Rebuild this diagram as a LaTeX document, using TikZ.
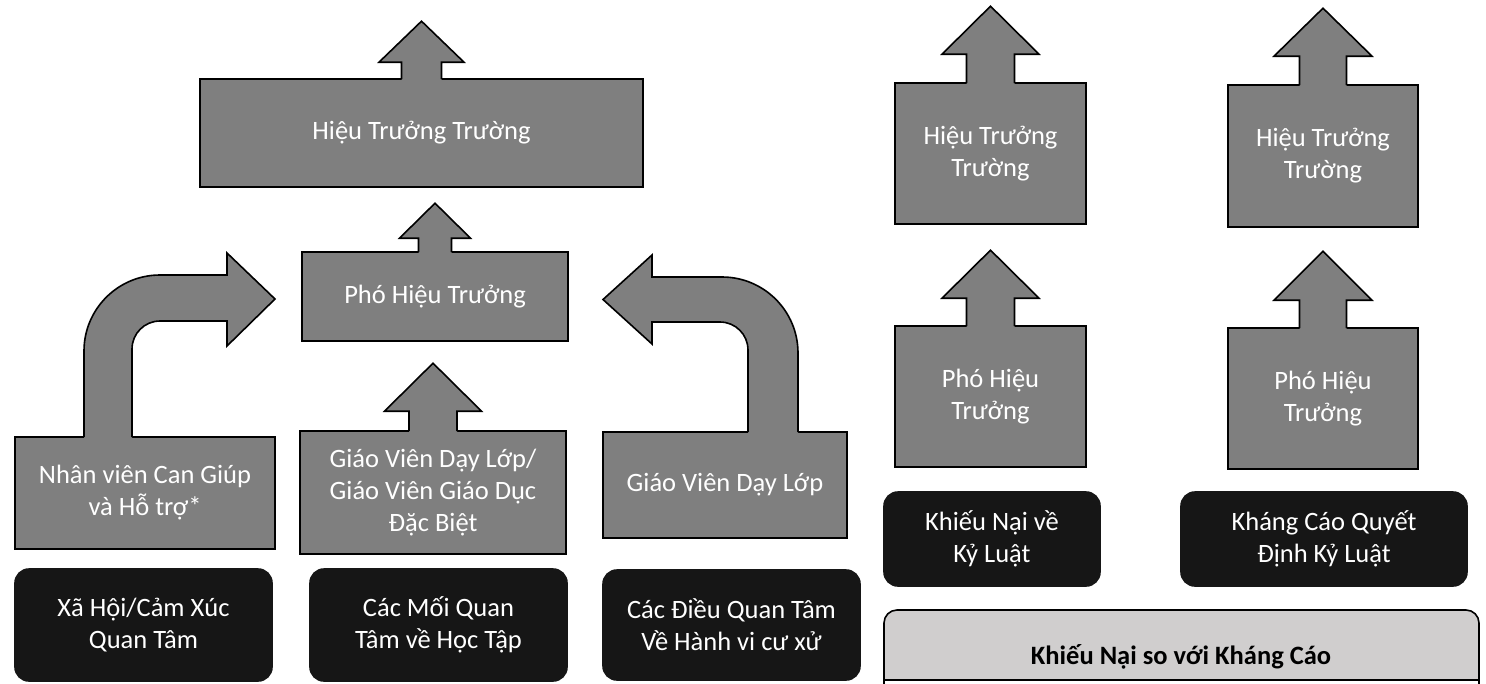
\documentclass[tikz,border=0pt]{standalone}
\usepackage{fontspec}
\setmainfont{Carlito}
\usetikzlibrary{calc}
\definecolor{boxgray}{HTML}{7F7F7F}
\definecolor{boxblack}{HTML}{161616}
\definecolor{hdrgray}{HTML}{D0CECE}

\begin{document}
\begin{tikzpicture}
  [x=1pt,y=-1pt,line width=1.6pt,
   every node/.style={font=\fontsize{26.5}{32}\selectfont,align=center,inner sep=0pt},
   gbox/.style={draw=black,fill=boxgray,text=white},
   bbox/.style={draw=boxblack,fill=boxblack,text=white,rounded corners=14pt}]
  \useasboundingbox (0,0) rectangle (1486,683);

  % left chart
  \node[gbox,minimum width=443pt,minimum height=108pt] (htt) at (421.5,133) {Hiệu Trưởng Trường};
  \node[gbox,minimum width=266pt,minimum height=89pt] (pho) at (435,296.5) {Phó Hiệu Trưởng};
  \node[gbox,minimum width=260pt,minimum height=112pt] (nv) at (145,493) {Nhân viên Can Giúp\\và Hỗ trợ*};
  \node[gbox,minimum width=266pt,minimum height=123pt] (gvsp) at (433,492.5) {Giáo Viên Dạy Lớp/\\Giáo Viên Giáo Dục\\Đặc Biệt};
  \node[gbox,minimum width=244pt,minimum height=106pt] (gvl) at (725,485) {Giáo Viên Dạy Lớp};

  \node[bbox,minimum width=257pt,minimum height=112pt] (xh) at (143.5,625) {Xã Hội/Cảm Xúc\\Quan Tâm};
  \node[bbox,minimum width=257pt,minimum height=112pt] (hoc) at (438.5,625) {Các Mối Quan\\Tâm về Học Tập};
  \node[bbox,minimum width=257pt,minimum height=110pt] (hv) at (731.5,625) {Các Điều Quan Tâm\\Về Hành vi cư xử};

  % right chart
  \node[gbox,minimum width=191pt,minimum height=141pt] (htt2) at (990.5,153.5) {Hiệu Trưởng\\Trường};
  \node[gbox,minimum width=190pt,minimum height=142pt] (htt3) at (1323,156) {Hiệu Trưởng\\Trường};
  \node[gbox,minimum width=191pt,minimum height=141pt] (pho2) at (990.5,396.5) {Phó Hiệu\\Trưởng};
  \node[gbox,minimum width=190pt,minimum height=141pt] (pho3) at (1323,398.5) {Phó Hiệu\\Trưởng};
  \node[bbox,minimum width=216pt,minimum height=94pt] (kn) at (992,539) {Khiếu Nại về\\Kỷ Luật};
  \node[bbox,minimum width=286pt,minimum height=94pt] (kc) at (1324,539) {Kháng Cáo Quyết\\Định Kỷ Luật};

  % up arrows on the boxes
  \foreach \nd/\sw/\hw/\hb/\tp in {htt/20/42.5/16/57, pho/16.5/35.5/13/48, gvsp/24/48.5/19/67,
      htt2/24/48.5/28/76, htt3/23.5/49/28/76, pho2/24/48.5/27/75, pho3/23.5/49/27/76}
  {
    \fill[boxgray] ($(\nd.north)+(-\sw,3)$) -- ($(\nd.north)+(-\sw,-\hb)$) -- ($(\nd.north)+(-\hw,-\hb)$)
      -- ($(\nd.north)+(0,-\tp)$) -- ($(\nd.north)+(\hw,-\hb)$) -- ($(\nd.north)+(\sw,-\hb)$)
      -- ($(\nd.north)+(\sw,3)$) -- cycle;
    \draw ($(\nd.north)+(-\sw,0.8)$) -- ($(\nd.north)+(-\sw,-\hb)$) -- ($(\nd.north)+(-\hw,-\hb)$)
      -- ($(\nd.north)+(0,-\tp)$) -- ($(\nd.north)+(\hw,-\hb)$) -- ($(\nd.north)+(\sw,-\hb)$)
      -- ($(\nd.north)+(\sw,0.8)$);
  }

  % bent arrows to the vice principal
  \fill[boxgray] ($(84,0 |- nv.north)+(0,3)$) -- (84,351) arc[start angle=180,end angle=270,radius=76]
    -- (227,275) -- (227,253) -- (275,299) -- (227,346) -- (227,321) -- (160,321)
    arc[start angle=270,end angle=180,radius=28] -- ($(132,0 |- nv.north)+(0,3)$) -- cycle;
  \draw ($(84,0 |- nv.north)+(0,0.8)$) -- (84,351) arc[start angle=180,end angle=270,radius=76]
    -- (227,275) -- (227,253) -- (275,299) -- (227,346) -- (227,321) -- (160,321)
    arc[start angle=270,end angle=180,radius=28] -- ($(132,0 |- nv.north)+(0,0.8)$);

  \fill[boxgray] ($(798,0 |- gvl.north)+(0,3)$) -- (798,353) arc[start angle=0,end angle=-90,radius=76]
    -- (652,277) -- (652,255) -- (603,299.5) -- (652,344) -- (652,322) -- (720,322)
    arc[start angle=-90,end angle=0,radius=28] -- ($(748,0 |- gvl.north)+(0,3)$) -- cycle;
  \draw ($(798,0 |- gvl.north)+(0,0.8)$) -- (798,353) arc[start angle=0,end angle=-90,radius=76]
    -- (652,277) -- (652,255) -- (603,299.5) -- (652,344) -- (652,322) -- (720,322)
    arc[start angle=-90,end angle=0,radius=28] -- ($(748,0 |- gvl.north)+(0,0.8)$);

  % comparison panel
  \draw[fill=hdrgray,rounded corners=13pt] (884,695) -- (884,610) -- (1479,610) -- (1479,695);
  \fill[white] (885,680) rectangle (1478,695);
  \draw (884,680) -- (1479,680);
  \node[font=\fontsize{26.5}{32}\selectfont\bfseries] (cmp) at (1181,657) {Khiếu Nại so với Kháng Cáo};
\end{tikzpicture}
\end{document}
